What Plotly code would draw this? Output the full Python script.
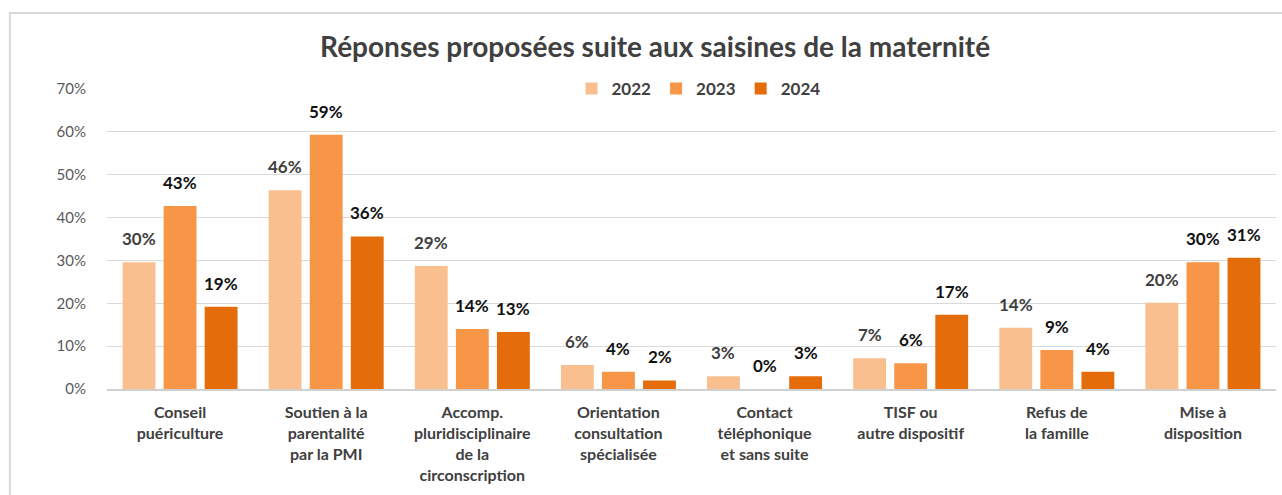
import plotly.graph_objects as go

categories = [
    "Conseil<br>puériculture",
    "Soutien à la<br>parentalité<br>par la PMI",
    "Accomp.<br>pluridisciplinaire<br>de la<br>circonscription",
    "Orientation<br>consultation<br>spécialisée",
    "Contact<br>téléphonique<br>et sans suite",
    "TISF ou<br>autre dispositif",
    "Refus de<br>la famille",
    "Mise à<br>disposition",
]
years = ["2022", "2023", "2024"]
v2022 = [29.6, 46.4, 28.7, 5.6, 3.0, 7.2, 14.3, 20.1]
v2023 = [42.7, 59.3, 14.0, 4.0, 0.0, 6.0, 9.1, 29.6]
v2024 = [19.2, 35.6, 13.3, 2.0, 3.0, 17.3, 4.0, 30.6]
colors = ["#F9BF8F", "#F79646", "#E46C0A"]
label_colors = ["#404040", "#111111", "#111111"]

FONT = "Lato, Calibri, Carlito, sans-serif"
W, H = 1282, 495
ML, MR, MT, MB = 107, 6, 89, 106
BARGAP, GROUPGAP = 0.157, 0.2

fig = go.Figure()
series = [v2022, v2023, v2024]
for name, vals, col in zip(years, series, colors):
    fig.add_trace(go.Bar(
        x=categories, y=vals, name=name,
        marker=dict(color=col, line=dict(width=0)),
        hoverinfo="x+y+name",
    ))

# value labels placed above bars (offset by group slot)
cat_px = (W - ML - MR) / len(categories)
slot_px = cat_px * (1 - BARGAP) / len(series)
annotations = []
for i, (vals, lc) in enumerate(zip(series, label_colors)):
    shift = (i - (len(series) - 1) / 2) * slot_px
    for c, v in zip(categories, vals):
        annotations.append(dict(
            x=c, y=v, xref="x", yref="y", text=f"{round(v):d}%",
            showarrow=False, xshift=shift, yshift=11, yanchor="bottom",
            font=dict(family=FONT, size=17, color=lc, weight="bold"),
        ))

fig.update_layout(
    width=W, height=H,
    margin=dict(l=ML, r=MR, t=MT, b=MB),
    paper_bgcolor="white", plot_bgcolor="white",
    barmode="group", bargap=BARGAP, bargroupgap=GROUPGAP,
    font=dict(family=FONT, color="#404040"),
    title=dict(
        text="<b>Réponses proposées suite aux saisines de la maternité</b>",
        x=0.511, xanchor="center", y=0.905, yanchor="middle",
        font=dict(family=FONT, size=28, color="#404040"),
    ),
    legend=dict(
        orientation="h", x=0.506, xanchor="center", y=1.0, yanchor="middle",
        bgcolor="white", font=dict(family=FONT, size=17, color="#404040", weight="bold"),
        itemwidth=30, traceorder="normal", itemclick=False,
    ),
    showlegend=True,
    yaxis=dict(
        range=[0, 70], dtick=10, ticksuffix="%",
        showgrid=True, gridcolor="#D9D9D9", gridwidth=1,
        zeroline=False, showline=False,
        tickfont=dict(family=FONT, size=15, color="#595959"),
        ticklabelstandoff=20,
    ),
    xaxis=dict(
        showline=True, linecolor="#D0D0D0", linewidth=2,
        tickfont=dict(family=FONT, size=16, color="#404040", weight="bold"),
        ticks="", ticklabelstandoff=8,
    ),
    annotations=annotations,
    shapes=[dict(
        type="rect", xref="paper", yref="paper",
        x0=-0.0831, x1=1.02, y0=-0.4, y1=1.2533,
        line=dict(color="#D9D9D9", width=2), fillcolor="rgba(0,0,0,0)", layer="below",
    )],
)

fig.write_html(
    "out.html",
    config={"displayModeBar": False},
    post_script="document.body.style.margin='0';document.body.style.padding='0';",
)
